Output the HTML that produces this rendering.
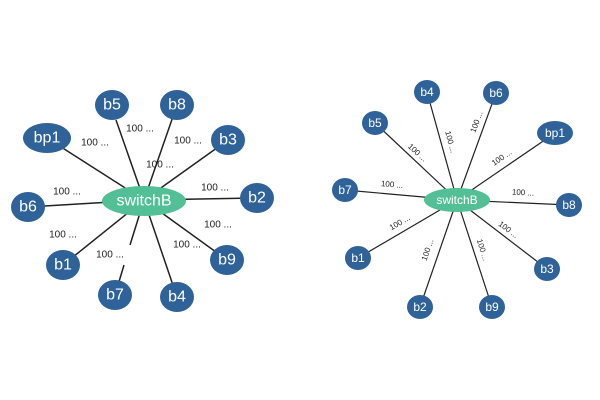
<!DOCTYPE html>
<html><head><style>body{margin:0;background:#fff}svg{display:block}</style></head><body>
<svg width="600" height="400" xmlns="http://www.w3.org/2000/svg" font-family="Liberation Sans, DejaVu Sans, sans-serif">
<g stroke="#222" stroke-width="1.5">
<line x1="144" y1="200" x2="47" y2="138"/>
<line x1="144" y1="200" x2="116" y2="120"/>
<line x1="144" y1="200" x2="177" y2="105"/>
<line x1="144" y1="200" x2="228" y2="140"/>
<line x1="144" y1="200" x2="257" y2="198"/>
<line x1="144" y1="200" x2="227" y2="260"/>
<line x1="144" y1="200" x2="177" y2="297"/>
<line x1="144" y1="200" x2="130" y2="245"/>
<line x1="124" y1="265" x2="115" y2="295"/>
<line x1="144" y1="200" x2="63" y2="265"/>
<line x1="144" y1="200" x2="28" y2="207"/>
</g>
<g stroke="#222" stroke-width="1.2">
<line x1="457" y1="200" x2="427" y2="92"/>
<line x1="457" y1="200" x2="496" y2="93"/>
<line x1="457" y1="200" x2="375" y2="123"/>
<line x1="457" y1="200" x2="555" y2="133"/>
<line x1="457" y1="200" x2="345" y2="190"/>
<line x1="457" y1="200" x2="569" y2="205"/>
<line x1="457" y1="200" x2="358" y2="258"/>
<line x1="457" y1="200" x2="547" y2="269"/>
<line x1="457" y1="200" x2="420" y2="307"/>
<line x1="457" y1="200" x2="492" y2="307"/>
</g>
<g font-size="10" fill="#222" text-anchor="middle" dominant-baseline="middle">
<text x="95" y="143">100 ...</text>
<text x="140" y="129">100 ...</text>
<text x="188" y="141">100 ...</text>
<text x="160" y="165">100 ...</text>
<text x="67" y="192">100 ...</text>
<text x="215" y="188">100 ...</text>
<text x="218" y="225">100 ...</text>
<text x="187" y="245">100 ...</text>
<text x="63" y="235">100 ...</text>
<text x="110" y="255">100 ...</text>
</g>
<g font-size="8" fill="#222" text-anchor="middle" dominant-baseline="middle">
<text transform="translate(417,153) rotate(42)">100 ...</text>
<text transform="translate(450,142) rotate(75)">100 ...</text>
<text transform="translate(477,122) rotate(-70)">100 ...</text>
<text transform="translate(502,158) rotate(-34)">100 ...</text>
<text transform="translate(392,185) rotate(5)">100 ...</text>
<text transform="translate(523,193) rotate(3)">100 ...</text>
<text transform="translate(400,223) rotate(-30)">100 ...</text>
<text transform="translate(508,230) rotate(37)">100 ...</text>
<text transform="translate(428,250) rotate(-71)">100 ...</text>
<text transform="translate(482,250) rotate(73)">100 ...</text>
</g>
<g fill="#2e6299">
<ellipse cx="47" cy="138" rx="24" ry="15"/>
<ellipse cx="112" cy="105" rx="17" ry="15"/>
<ellipse cx="177" cy="105" rx="17" ry="15"/>
<ellipse cx="228" cy="140" rx="17" ry="15"/>
<ellipse cx="257" cy="198" rx="17" ry="15"/>
<ellipse cx="227" cy="260" rx="17" ry="15"/>
<ellipse cx="177" cy="297" rx="17" ry="15"/>
<ellipse cx="115" cy="295" rx="17" ry="15"/>
<ellipse cx="63" cy="265" rx="17" ry="15"/>
<ellipse cx="28" cy="207" rx="17" ry="15"/>
<ellipse cx="427" cy="92" rx="13" ry="12"/>
<ellipse cx="496" cy="93" rx="13" ry="12"/>
<ellipse cx="375" cy="123" rx="13" ry="12"/>
<ellipse cx="555" cy="133" rx="18" ry="12"/>
<ellipse cx="345" cy="190" rx="13" ry="12"/>
<ellipse cx="569" cy="205" rx="13" ry="12"/>
<ellipse cx="358" cy="258" rx="13" ry="12"/>
<ellipse cx="547" cy="269" rx="13" ry="12"/>
<ellipse cx="420" cy="307" rx="13" ry="12"/>
<ellipse cx="492" cy="307" rx="13" ry="12"/>
</g>
<ellipse cx="144" cy="201" rx="42" ry="15" fill="#52bf95"/>
<ellipse cx="457" cy="200" rx="33" ry="12" fill="#52bf95"/>
<g fill="#fff" text-anchor="middle" dominant-baseline="central">
<g font-size="16">
<text x="144" y="201">switchB</text>
<text x="47" y="138">bp1</text>
<text x="112" y="105">b5</text>
<text x="177" y="105">b8</text>
<text x="228" y="140">b3</text>
<text x="257" y="198">b2</text>
<text x="227" y="260">b9</text>
<text x="177" y="297">b4</text>
<text x="115" y="295">b7</text>
<text x="63" y="265">b1</text>
<text x="28" y="207">b6</text>
</g>
<g font-size="12">
<text x="457" y="200">switchB</text>
<text x="427" y="92">b4</text>
<text x="496" y="93">b6</text>
<text x="375" y="123">b5</text>
<text x="555" y="133">bp1</text>
<text x="345" y="190">b7</text>
<text x="569" y="205">b8</text>
<text x="358" y="258">b1</text>
<text x="547" y="269">b3</text>
<text x="420" y="307">b2</text>
<text x="492" y="307">b9</text>
</g>
</g>
</svg>
</body></html>
